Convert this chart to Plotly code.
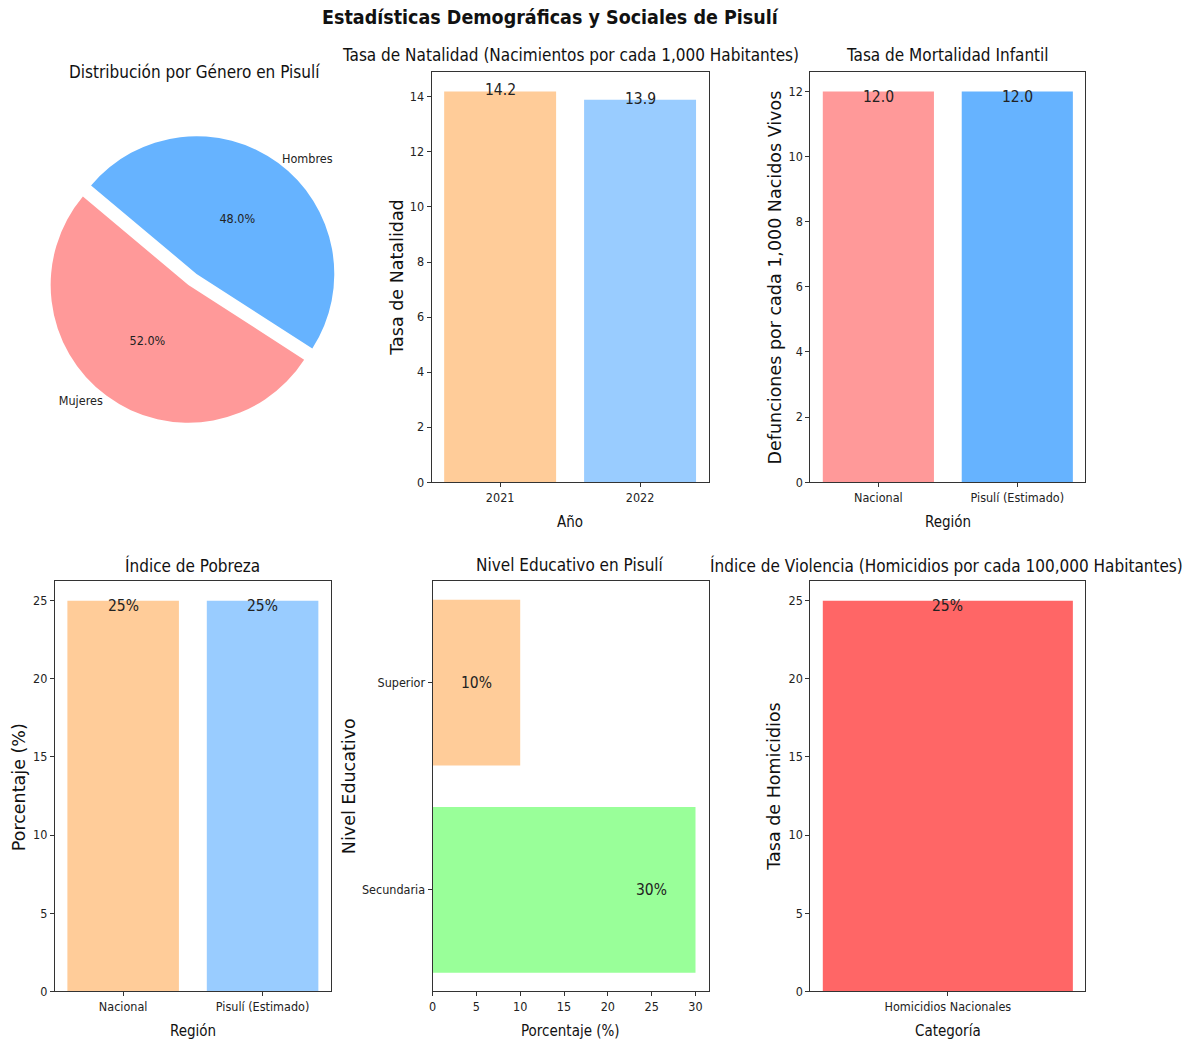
import plotly.graph_objects as go

# ---- data ----
genero = ["Mujeres", "Hombres"]
genero_pct = [52.0, 48.0]
genero_colores = ["#ff9999", "#66b3ff"]

anos = ["2021", "2022"]
natalidad = [14.2, 13.9]
natalidad_colores = ["#ffcc99", "#99ccff"]

regiones = ["Nacional", "Pisulí (Estimado)"]
mortalidad = [12.0, 12.0]
mortalidad_colores = ["#ff9999", "#66b3ff"]

pobreza = [25, 25]
pobreza_colores = ["#ffcc99", "#99ccff"]

niveles = ["Secundaria", "Superior"]
nivel_pct = [30, 10]
nivel_colores = ["#99ff99", "#ffcc99"]

violencia_cat = ["Homicidios Nacionales"]
violencia = [25]
violencia_colores = ["#ff6666"]

# ---- page geometry (pixels) ----
W, H = 1198, 1042
Y_STRETCH = 1.0073  # vertical spacing factor for the grid
COND = "DejaVu Sans Condensed, Liberation Sans Narrow, DejaVu Sans"
WIDE = "DejaVu Sans"
INK = "#222222"


def px(x):
    return x / W


def py(y):
    return 1 - (18 + (y - 18) * Y_STRETCH) / H


def dom_x(a, b):
    return [px(a), px(b)]


def dom_y(top, bottom):
    return [py(bottom), py(top)]


fig = go.Figure()

# ---- pie: gender distribution ----
start_angle = 140  # counter-clockwise from 3 o'clock
rotation = (90 - start_angle) - 360 * genero_pct[0] / sum(genero_pct) + 360
pie_cx, pie_cy, pie_half = 185, 285, 152
pie_dom = dict(x=dom_x(pie_cx - pie_half, pie_cx + pie_half),
               y=dom_y(pie_cy - pie_half, pie_cy + pie_half))
pull = [0, 0.1]

fig.add_trace(go.Pie(
    labels=genero, values=genero_pct, sort=False, direction="clockwise",
    rotation=rotation, pull=pull, domain=pie_dom,
    marker=dict(colors=genero_colores, line=dict(width=0)),
    texttemplate="%{percent:.1%}", textposition="inside",
    insidetextorientation="horizontal",
    textfont=dict(family=COND, size=12.5, color=INK),
    showlegend=False, hoverinfo="label+percent",
))
# outer category labels
fig.add_trace(go.Pie(
    labels=genero, values=genero_pct, sort=False, direction="clockwise",
    rotation=rotation, pull=pull, domain=pie_dom,
    marker=dict(colors=["rgba(0,0,0,0)"] * len(genero), line=dict(width=0)),
    textinfo="label", textposition="outside",
    textfont=dict(family=COND, size=12.5, color=INK),
    showlegend=False, hoverinfo="skip",
))

# ---- bars ----
fig.add_trace(go.Bar(x=anos, y=natalidad, marker=dict(color=natalidad_colores, line=dict(width=0)),
                     width=0.8, xaxis="x", yaxis="y", showlegend=False))
fig.add_trace(go.Bar(x=regiones, y=mortalidad, marker=dict(color=mortalidad_colores, line=dict(width=0)),
                     width=0.8, xaxis="x2", yaxis="y2", showlegend=False))
fig.add_trace(go.Bar(x=regiones, y=pobreza, marker=dict(color=pobreza_colores, line=dict(width=0)),
                     width=0.8, xaxis="x3", yaxis="y3", showlegend=False))
fig.add_trace(go.Bar(x=nivel_pct, y=niveles, orientation="h",
                     marker=dict(color=nivel_colores, line=dict(width=0)),
                     width=0.8, xaxis="x4", yaxis="y4", showlegend=False))
fig.add_trace(go.Bar(x=violencia_cat, y=violencia, marker=dict(color=violencia_colores, line=dict(width=0)),
                     width=0.8, xaxis="x5", yaxis="y5", showlegend=False))

# ---- axes ----
axis_style = dict(
    showline=True, mirror=True, linecolor="#333333", linewidth=1,
    ticks="outside", ticklen=4, tickwidth=1, tickcolor="#333333",
    tickfont=dict(family=COND, size=12.5, color=INK),
    showgrid=False, zeroline=False, fixedrange=True,
)

panels = {
    "1": (429, 707, 72, 482),
    "2": (809, 1085, 72, 482),
    "3": (51, 328, 581, 991),
    "4": (430, 707, 581, 991),
    "5": (809, 1085, 581, 991),
}


def axname(letter, k):
    return f"{letter}axis" if k == "1" else f"{letter}axis{k}"


def anchor(letter, k):
    return letter if k == "1" else f"{letter}{k}"


for k, (l, r, t, b) in panels.items():
    fig.update_layout({
        axname("x", k): dict(axis_style, domain=dom_x(l, r), anchor=anchor("y", k)),
        axname("y", k): dict(axis_style, domain=dom_y(t, b), anchor=anchor("x", k)),
    })

fig.update_layout(
    xaxis=dict(type="category", range=[-0.49, 1.49]),
    yaxis=dict(range=[0, max(natalidad) * 1.05], dtick=2),
    xaxis2=dict(type="category", range=[-0.49, 1.49]),
    yaxis2=dict(range=[0, max(mortalidad) * 1.05], dtick=2),
    xaxis3=dict(type="category", range=[-0.49, 1.49]),
    yaxis3=dict(range=[0, max(pobreza) * 1.05], dtick=5),
    xaxis4=dict(range=[0, max(nivel_pct) * 1.05], dtick=5),
    yaxis4=dict(type="category", categoryorder="array", categoryarray=niveles, range=[-0.49, 1.49]),
    xaxis5=dict(type="category", range=[-0.44, 0.44]),
    yaxis5=dict(range=[0, max(violencia) * 1.05], dtick=5),
)

annotations = []
VAL_FONT = dict(family=COND, size=15.5, color=INK)

# value labels (category positions given by index)
for i, yv in enumerate(natalidad):
    annotations.append(dict(x=i, y=yv, xref="x", yref="y", text=f"{yv:.1f}", showarrow=False,
                            yanchor="middle", yshift=1, font=VAL_FONT))
for i, yv in enumerate(mortalidad):
    annotations.append(dict(x=i, y=yv, xref="x2", yref="y2", text=f"{yv:.1f}", showarrow=False,
                            yanchor="middle", yshift=-6, font=VAL_FONT))
for i, yv in enumerate(pobreza):
    annotations.append(dict(x=i, y=yv, xref="x3", yref="y3", text=f"{yv}%", showarrow=False,
                            yanchor="middle", yshift=-5, font=VAL_FONT))
for i, v in enumerate(nivel_pct):
    annotations.append(dict(x=v - 5, y=i, xref="x4", yref="y4", text=f"{v}%", showarrow=False,
                            xanchor="center", yanchor="middle", font=VAL_FONT))
for i, yv in enumerate(violencia):
    annotations.append(dict(x=i, y=yv, xref="x5", yref="y5", text=f"{yv}%", showarrow=False,
                            yanchor="middle", yshift=-5, font=VAL_FONT))


def label(text, x, y, size, family=COND, angle=0, bold=False):
    if bold:
        text = f"<b>{text}</b>"
    annotations.append(dict(text=text, x=px(x), y=py(y), xref="paper", yref="paper",
                            xanchor="center", yanchor="middle", showarrow=False, textangle=angle,
                            font=dict(family=family, size=size, color="#111111")))


# figure title
label("Estadísticas Demográficas y Sociales de Pisulí", 548, 18, 19.5, bold=True)

# subplot titles
label("Distribución por Género en Pisulí", 191, 72, 17)
label("Tasa de Natalidad (Nacimientos por cada 1,000 Habitantes)", 568, 55, 17)
label("Tasa de Mortalidad Infantil", 947, 55, 17)
label("Índice de Pobreza", 189, 565, 17)
label("Nivel Educativo en Pisulí", 568, 565, 17)
label("Índice de Violencia (Homicidios por cada 100,000 Habitantes)", 946, 565, 17)

# x-axis titles
label("Año", 568, 522, 15)
label("Región", 947, 522, 15)
label("Región", 190, 1031, 15)
label("Porcentaje (%)", 568, 1031, 15)
label("Categoría", 947, 1031, 15)

# y-axis titles
label("Tasa de Natalidad", 394, 278, 17.5, family=WIDE, angle=-90)
label("Defunciones por cada 1,000 Nacidos Vivos", 774, 277, 17.5, family=WIDE, angle=-90)
label("Porcentaje (%)", 15, 787, 17.5, family=WIDE, angle=-90)
label("Nivel Educativo", 346, 786, 17.5, family=WIDE, angle=-90)
label("Tasa de Homicidios", 773, 786, 17.5, family=WIDE, angle=-90)

fig.update_layout(
    width=W, height=H,
    margin=dict(l=0, r=0, t=0, b=0),
    paper_bgcolor="white", plot_bgcolor="white",
    font=dict(family=COND, size=12, color=INK),
    annotations=annotations,
    showlegend=False,
)

fig.write_html("out.html")
